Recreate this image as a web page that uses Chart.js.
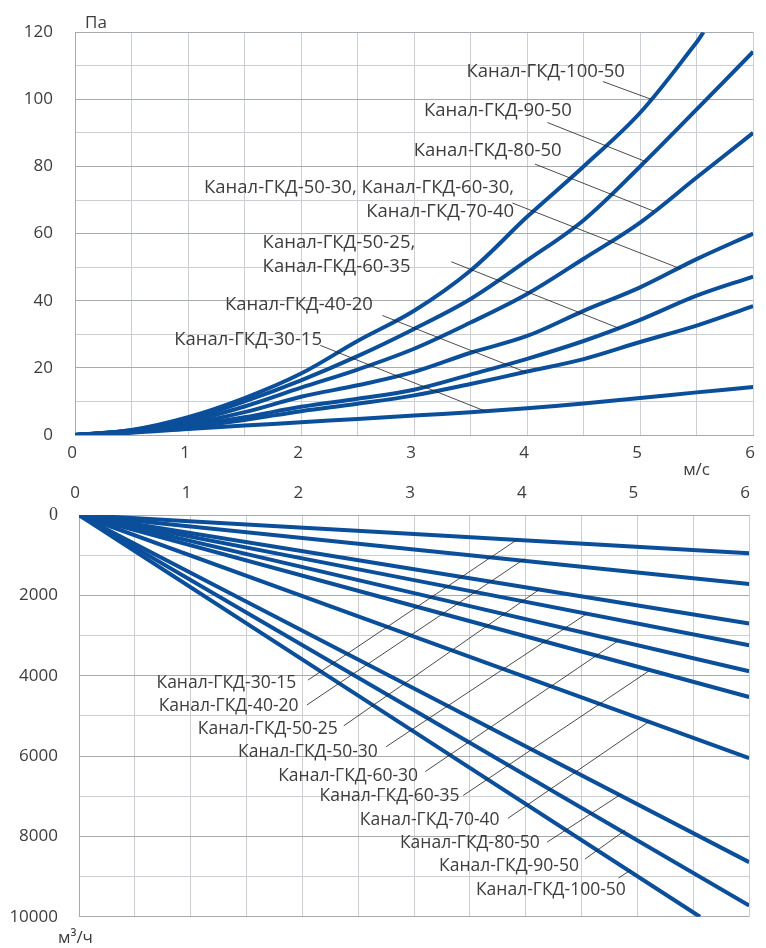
<!DOCTYPE html>
<html>
<head>
<meta charset="utf-8">
<script src="https://cdn.jsdelivr.net/npm/chart.js@4/dist/chart.umd.min.js"></script>
<style>
  body { margin: 0; background: #fff; }
  #wrap { position: relative; width: 766px; height: 948px; }
  canvas { position: absolute; left: 0; }
  #top { top: 0; }
  #bottom { top: 478px; }
</style>
</head>
<body>
<div id="wrap">
  <canvas id="top" width="766" height="478"></canvas>
  <canvas id="bottom" width="766" height="470"></canvas>
</div>
<script>
// скорость воздуха, м/с
const speed = [0, 0.5, 1, 1.5, 2, 2.5, 3, 3.5, 4, 4.5, 5, 5.5, 6];
const speed100 = [0, 0.5, 1, 1.5, 2, 2.5, 3, 3.5, 4, 4.5, 5, 5.5, 5.56];

// потери давления, Па
const dp30_15 = [0, 0.7, 1.8, 2.8, 3.8, 4.8, 5.8, 6.8, 8.0, 9.4, 11.0, 12.7, 14.3];
const dp40_20 = [0, 0.9, 2.4, 4.5, 7.1, 9.3, 11.8, 15.2, 18.9, 22.6, 27.7, 32.6, 38.4];
const dp50_25 = [0, 1.0, 2.8, 5.3, 8.4, 10.8, 13.5, 18.0, 22.7, 28.0, 34.3, 41.5, 47.2];
const dp50_30 = [0, 1.2, 3.3, 6.8, 11.4, 14.8, 18.8, 24.5, 29.5, 37.0, 44.0, 52.4, 60.0];
const dp80_50 = [0, 1.3, 4.0, 8.5, 14.1, 19.5, 25.7, 33.5, 42.0, 52.5, 63.3, 76.7, 90.0];
const dp90_50 = [0, 1.4, 4.6, 10.0, 16.3, 23.5, 31.6, 40.5, 52.0, 64.0, 80.0, 97.0, 114.2];
const dp100_50 = [0, 1.5, 5.3, 11.0, 18.3, 28.0, 37.0, 49.0, 65.0, 80.0, 96.0, 117.0, 120];

// расход воздуха, м3/ч
const flowSpeed = [0, 6];
const flowSpeed100 = [0, 5.56];
const q30_15 = [0, 950];
const q40_20 = [0, 1720];
const q50_25 = [0, 2700];
const q50_30 = [0, 3240];
const q60_30 = [0, 3890];
const q60_35 = [0, 4530];
const q70_40 = [0, 6050];
const q80_50 = [0, 8640];
const q90_50 = [0, 9720];
const q100_50 = [0, 10000];

const blue = '#0b4f9b';
const textColor = '#3d3d3d';
const gridLight = '#cbced4';
const gridDark = '#a6aab1';
const font = '"Open Sans", "Noto Sans", sans-serif';

function pts(xs, ys) {
    return xs.map((x, i) => ({ x: x, y: ys[i] }));
}
function line(label, data) {
    return { label: label, data: data, borderColor: blue, borderWidth: 4, pointRadius: 0, fill: false, tension: 0.35 };
}

// подписи и выноски
const notesPlugin = {
    id: 'notes',
    afterDatasetsDraw(chart, args, opts) {
        const ctx = chart.ctx;
        const xs = chart.scales.x, ys = chart.scales.y, area = chart.chartArea;
        ctx.save();
        (opts.items || []).forEach(n => {
            ctx.strokeStyle = '#1e1e1e';
            ctx.lineWidth = 0.8;
            ctx.beginPath();
            ctx.moveTo(xs.getPixelForValue(n.from[0]), ys.getPixelForValue(n.from[1]));
            ctx.lineTo(xs.getPixelForValue(n.to[0]), ys.getPixelForValue(n.to[1]));
            ctx.stroke();
            ctx.font = opts.size + 'px ' + font;
            ctx.fillStyle = textColor;
            ctx.textAlign = n.align;
            ctx.textBaseline = 'middle';
            const x = xs.getPixelForValue(n.at[0]) + (n.align === 'right' ? opts.shift : 0);
            const y = ys.getPixelForValue(n.at[1]);
            n.text.forEach((t, i) => ctx.fillText(t, x, y + i * 24));
        });
        (opts.units || []).forEach(u => {
            ctx.font = '17px ' + font;
            ctx.fillStyle = textColor;
            ctx.textAlign = 'left';
            ctx.textBaseline = 'middle';
            const x = u.side === 'right' ? area.right + u.dx : area.left + u.dx;
            const y = u.edge === 'bottom' ? area.bottom + u.dy : area.top + u.dy;
            ctx.fillText(u.text, x, y);
        });
        ctx.restore();
    }
};

const topNotes = [
    { text: ['Канал-ГКД-100-50'], at: [4.83, 108.3], align: 'right', from: [4.67, 105.3], to: [5.10, 100.0] },
    { text: ['Канал-ГКД-90-50'], at: [4.36, 96.7], align: 'right', from: [4.18, 93.1], to: [5.06, 81.3] },
    { text: ['Канал-ГКД-80-50'], at: [4.27, 84.8], align: 'right', from: [4.07, 80.7], to: [5.12, 66.7] },
    { text: ['Канал-ГКД-50-30, Канал-ГКД-60-30,', 'Канал-ГКД-70-40'], at: [3.85, 73.6], align: 'right', from: [3.87, 69.1], to: [5.36, 49.5] },
    { text: ['Канал-ГКД-50-25,', 'Канал-ГКД-60-35'], at: [1.66, 57.3], align: 'left', from: [3.33, 51.6], to: [4.82, 31.7] },
    { text: ['Канал-ГКД-40-20'], at: [2.60, 38.9], align: 'right', from: [2.72, 35.6], to: [3.99, 18.7] },
    { text: ['Канал-ГКД-30-15'], at: [2.15, 28.5], align: 'right', from: [2.17, 26.7], to: [3.63, 7.1] }
];

const bottomNotes = [
    { text: ['Канал-ГКД-30-15'], at: [1.91, 4183], align: 'right', from: [2.05, 4109], to: [3.92, 619] },
    { text: ['Канал-ГКД-40-20'], at: [1.93, 4752], align: 'right', from: [2.04, 4728], to: [3.99, 1089] },
    { text: ['Канал-ГКД-50-25'], at: [2.28, 5322], align: 'right', from: [2.37, 5248], to: [4.12, 1856] },
    { text: ['Канал-ГКД-50-30'], at: [2.64, 5891], align: 'right', from: [2.75, 5767], to: [4.55, 2450] },
    { text: ['Канал-ГКД-60-30'], at: [3.00, 6485], align: 'right', from: [3.10, 6386], to: [4.82, 3144] },
    { text: ['Канал-ГКД-60-35'], at: [3.37, 7005], align: 'right', from: [3.44, 6980], to: [5.10, 3886] },
    { text: ['Канал-ГКД-70-40'], at: [3.73, 7599], align: 'right', from: [3.84, 7550], to: [5.10, 5149] },
    { text: ['Канал-ГКД-80-50'], at: [4.09, 8168], align: 'right', from: [4.19, 8144], to: [4.85, 6955] },
    { text: ['Канал-ГКД-90-50'], at: [4.44, 8738], align: 'right', from: [4.53, 8564], to: [4.89, 7847] },
    { text: ['Канал-ГКД-100-50'], at: [4.86, 9332], align: 'right', from: [4.83, 9035], to: [4.94, 8837] }
];

const tickFont = { family: font, size: 17 };

// верхний график: потери давления
new Chart(document.getElementById('top'), {
    type: 'line',
    data: {
        datasets: [
            line('Канал-ГКД-30-15', pts(speed, dp30_15)),
            line('Канал-ГКД-40-20', pts(speed, dp40_20)),
            line('Канал-ГКД-50-25, Канал-ГКД-60-35', pts(speed, dp50_25)),
            line('Канал-ГКД-50-30, Канал-ГКД-60-30, Канал-ГКД-70-40', pts(speed, dp50_30)),
            line('Канал-ГКД-80-50', pts(speed, dp80_50)),
            line('Канал-ГКД-90-50', pts(speed, dp90_50)),
            line('Канал-ГКД-100-50', pts(speed100, dp100_50))
        ]
    },
    options: {
        responsive: false,
        animation: false,
        layout: { padding: { top: 30, right: 6, left: 0, bottom: 0 } },
        plugins: {
            legend: { display: false },
            tooltip: { enabled: false },
            notes: {
                items: topNotes,
                size: 18.5,
                shift: 4,
                units: [
                    { text: 'Па', dx: 10, dy: -9 },
                    { text: 'м/с', side: 'right', dx: -70, edge: 'bottom', dy: 35 }
                ]
            }
        },
        scales: {
            x: {
                type: 'linear', min: 0, max: 6,
                afterFit: s => { s.height = 43; },
                ticks: {
                    stepSize: 0.5, autoSkip: false, maxRotation: 0, padding: 8, labelOffset: -3,
                    color: textColor, font: tickFont,
                    callback: v => Number.isInteger(v) ? String(v) : ''
                },
                grid: { color: gridLight, drawTicks: false, lineWidth: 1 },
                border: { color: gridDark }
            },
            y: {
                type: 'linear', min: 0, max: 120,
                afterFit: s => { s.width = 75; },
                ticks: {
                    stepSize: 10, autoSkip: false, padding: 22,
                    color: textColor, font: tickFont,
                    callback: v => v % 20 === 0 ? String(v) : ''
                },
                grid: { color: c => c.tick && c.tick.value % 20 === 0 ? gridDark : gridLight, drawTicks: false },
                border: { color: gridDark }
            }
        }
    },
    plugins: [notesPlugin]
});

// нижний график: расход воздуха
new Chart(document.getElementById('bottom'), {
    type: 'line',
    data: {
        datasets: [
            line('Канал-ГКД-30-15', pts(flowSpeed, q30_15)),
            line('Канал-ГКД-40-20', pts(flowSpeed, q40_20)),
            line('Канал-ГКД-50-25', pts(flowSpeed, q50_25)),
            line('Канал-ГКД-50-30', pts(flowSpeed, q50_30)),
            line('Канал-ГКД-60-30', pts(flowSpeed, q60_30)),
            line('Канал-ГКД-60-35', pts(flowSpeed, q60_35)),
            line('Канал-ГКД-70-40', pts(flowSpeed, q70_40)),
            line('Канал-ГКД-80-50', pts(flowSpeed, q80_50)),
            line('Канал-ГКД-90-50', pts(flowSpeed, q90_50)),
            line('Канал-ГКД-100-50', pts(flowSpeed100, q100_50))
        ]
    },
    options: {
        responsive: false,
        animation: false,
        layout: { padding: { top: 0, right: 6, left: 0, bottom: 29 } },
        plugins: {
            legend: { display: false },
            tooltip: { enabled: false },
            notes: {
                items: bottomNotes,
                size: 17.5,
                shift: 4,
                units: [
                    { text: 'м³/ч', dx: -21, edge: 'bottom', dy: 21 }
                ]
            }
        },
        scales: {
            x: {
                type: 'linear', position: 'top', min: 0, max: 6,
                afterFit: s => { s.height = 37; },
                ticks: {
                    stepSize: 0.5, autoSkip: false, maxRotation: 0, padding: 12, labelOffset: -4,
                    color: textColor, font: tickFont,
                    callback: v => Number.isInteger(v) ? String(v) : ''
                },
                grid: { color: gridLight, drawTicks: false },
                border: { color: gridDark }
            },
            y: {
                type: 'linear', reverse: true, min: 0, max: 10000,
                afterFit: s => { s.width = 79; },
                ticks: {
                    stepSize: 1000, autoSkip: false, padding: 21,
                    color: textColor,
                    font: c => c.tick && c.tick.value === 0 ? { family: '"Liberation Serif", serif', size: 18 } : tickFont,
                    callback: v => v % 2000 === 0 ? String(v) : ''
                },
                grid: { color: c => c.tick && c.tick.value % 2000 === 0 ? gridDark : gridLight, drawTicks: false },
                border: { color: gridDark }
            }
        }
    },
    plugins: [notesPlugin]
});
</script>
</body>
</html>
